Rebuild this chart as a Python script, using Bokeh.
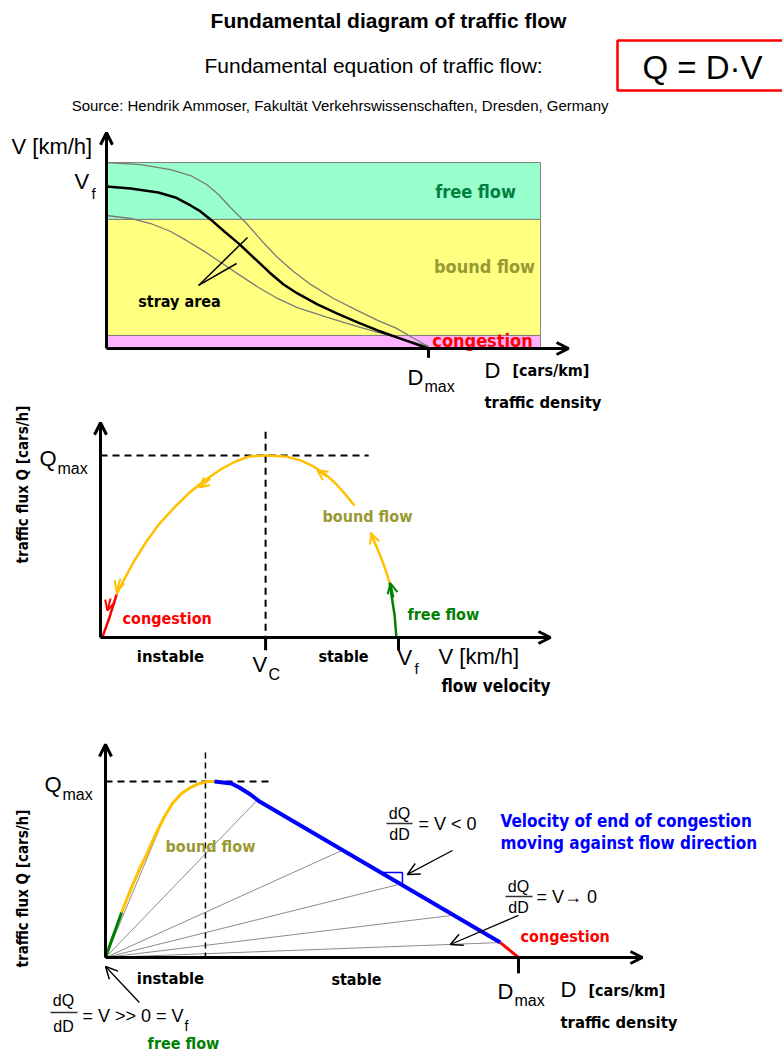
import numpy as np
from bokeh.plotting import figure
from bokeh.models import Range1d, Arrow, OpenHead
from bokeh.core.properties import value
from bokeh.embed import file_html
from bokeh.resources import INLINE

# ---------------- data (normalised schematic values) ----------------
# Panel 1: V(D), D in units of Dmax, V in units of top of free-flow band
p1_D_mid = [0, 0.075, 0.161, 0.214, 0.261, 0.292, 0.323, 0.366, 0.410, 0.460, 0.506, 0.550, 0.593, 0.655, 0.717, 0.780, 0.842, 0.922, 1.0]
p1_V_mid = [0.871, 0.860, 0.839, 0.812, 0.769, 0.737, 0.694, 0.629, 0.565, 0.484, 0.409, 0.344, 0.296, 0.237, 0.188, 0.140, 0.097, 0.048, 0.0]
p1_D_up = [0, 0.106, 0.199, 0.261, 0.311, 0.348, 0.385, 0.435, 0.481, 0.531, 0.581, 0.630, 0.705, 0.780, 0.842, 0.901, 0.950, 1.0]
p1_V_up = [1.0, 0.989, 0.962, 0.930, 0.882, 0.828, 0.758, 0.672, 0.581, 0.489, 0.414, 0.349, 0.269, 0.204, 0.151, 0.108, 0.059, 0.011]
p1_D_low = [0, 0.075, 0.137, 0.199, 0.248, 0.304, 0.360, 0.416, 0.472, 0.531, 0.593, 0.686, 0.780, 0.888, 1.0]
p1_V_low = [0.715, 0.699, 0.672, 0.629, 0.581, 0.522, 0.457, 0.392, 0.328, 0.269, 0.220, 0.167, 0.118, 0.065, 0.011]
p1_band_names = ["free flow", "bound flow", "congestion"]
p1_band_low = [0.694, 0.070, 0.0]
p1_band_high = [1.0, 0.694, 0.070]
p1_band_colors = ["#99FFCC", "#FFFF80", "#FFB3FF"]
p1_band_right = 1.348

# Panel 2: Q(V), V in units of Vf, Q in units of Qmax
p2_Vc = 0.554
p2_V_green = [0.993, 0.987, 0.970]
p2_Q_green = [0.0, 0.121, 0.302]
p2_V_yel_low = [0.970, 0.956, 0.940, 0.923, 0.906]
p2_Q_yel_low = [0.302, 0.374, 0.445, 0.511, 0.577]
p2_V_yel_up = [0.852, 0.822, 0.789, 0.755, 0.715, 0.671, 0.621, 0.554]
p2_Q_yel_up = [0.725, 0.786, 0.846, 0.896, 0.940, 0.973, 0.995, 1.0]
p2_V_yel_left = [0.554, 0.5, 0.453, 0.403, 0.349, 0.295, 0.245, 0.198, 0.154, 0.114, 0.081, 0.054]
p2_Q_yel_left = [1.0, 0.995, 0.967, 0.923, 0.863, 0.791, 0.709, 0.626, 0.527, 0.423, 0.324, 0.236]
p2_V_red = [0.054, 0.030, 0.007]
p2_Q_red = [0.236, 0.110, 0.005]

# Panel 3: Q(D), D in units of Dmax, Q in units of Qmax
p3_Dc = 0.242
p3_D_green = [0.0, 0.019, 0.039]
p3_Q_green = [0.0, 0.125, 0.256]
p3_D_yel = [0.039, 0.061, 0.082, 0.102, 0.121, 0.143, 0.162, 0.184, 0.206, 0.228, 0.247, 0.264]
p3_Q_yel = [0.256, 0.386, 0.5, 0.597, 0.699, 0.801, 0.875, 0.932, 0.966, 0.989, 1.0, 1.0]
p3_D_blue = [0.264, 0.305, 0.324, 0.351, 0.373, 0.956]
p3_Q_blue = [1.0, 0.989, 0.966, 0.926, 0.886, 0.085]
p3_D_red = [0.956, 1.0]
p3_Q_red = [0.085, 0.0]
p3_ray_D = [0.143, 0.368, 0.574, 0.714, 0.843, 0.956]

# ---------------- figure ----------------
W, H = 782, 1053
OFF = 0
FONT = "Liberation Sans"
BFONT = "DejaVu Sans Condensed"

p = figure(width=W, height=H, output_backend="svg", toolbar_location=None,
           x_axis_type=None, y_axis_type=None, min_border=0,
           x_range=Range1d(OFF, OFF + W), y_range=Range1d(OFF + H, OFF))
p.outline_line_color = None
p.background_fill_color = "white"
p.border_fill_color = "white"


def add_panel(name, x0, sx, y0, sy):
    p.extra_x_ranges[name + "x"] = Range1d((OFF - x0) / sx, (OFF + W - x0) / sx)
    p.extra_y_ranges[name + "y"] = Range1d((y0 - OFF - H) / sy, (y0 - OFF) / sy)
    return dict(x_range_name=name + "x", y_range_name=name + "y")


P1 = add_panel("p1", 106, 322, 348, 186)
P2 = add_panel("p2", 100, 298, 637, 182)
P3 = add_panel("p3", 105, 413, 957, 176)


def label(x, y, s, size, color="black", bold=False, align="left", baseline="middle", angle=0.0, font=None):
    f = font if font else (BFONT if bold else FONT)
    p.text(x=[x], y=[y], text=[s], text_font=value(f), text_font_size=value(f"{size}px"),
           text_font_style="bold" if bold else "normal", text_color=color,
           text_align=align, text_baseline=baseline, angle=angle)


def arrow(x1, y1, x2, y2, rn, color="black", lw=3, size=12, hw=None):
    p.add_layout(Arrow(x_start=x1, y_start=y1, x_end=x2, y_end=y2,
                       line_color=color, line_width=lw,
                       end=OpenHead(size=size, line_color=color, line_width=hw if hw else lw),
                       **rn))


# ---------------- header ----------------
label(388, 20, "Fundamental diagram of traffic flow", 21, bold=True, align="center", font="Liberation Sans")
label(204, 65, "Fundamental equation of traffic flow:", 21)
p.quad(left=[617], right=[800], top=[40], bottom=[90], fill_color=None, line_color="#FF0000", line_width=2.5)
label(642, 67, "Q = D\u00b7V", 33)
label(340, 105, "Source: Hendrik Ammoser, Fakult\u00e4t Verkehrswissenschaften, Dresden, Germany", 15, align="center")

# ---------------- panel 1 ----------------
for lo, hi, c in zip(p1_band_low, p1_band_high, p1_band_colors):
    p.quad(left=[0], right=[p1_band_right], bottom=[lo], top=[hi], fill_color=c,
           line_color="#808080", line_width=1, **P1)
p.line(p1_D_up, p1_V_up, line_color="#7a7a7a", line_width=1.3, **P1)
p.line(p1_D_low, p1_V_low, line_color="#7a7a7a", line_width=1.3, **P1)
p.line(p1_D_mid, p1_V_mid, line_color="black", line_width=2.5, **P1)
# stray area pointers
p.segment(x0=[0.286, 0.286], y0=[0.339, 0.339], x1=[0.438, 0.404], y1=[0.597, 0.457],
          line_color="black", line_width=1.5, **P1)
arrow(0, 0, 0, 1.16, P1)
arrow(0, 0, 1.435, 0, P1)
p.segment(x0=[1.0], y0=[0], x1=[1.0], y1=[-0.05], line_color="black", line_width=3, **P1)

label(11, 146, "V [km/h]", 22)
label(74, 181, "V", 22)
label(91, 193, "f", 15)
label(475, 191, p1_band_names[0], 18, color="#007F3F", bold=True, align="center")
label(484, 266, p1_band_names[1], 18, color="#999933", bold=True, align="center")
label(482, 340, p1_band_names[2], 18, color="#FF0000", bold=True, align="center")
label(179, 301, "stray area", 16, bold=True, align="center")
label(407, 377, "D", 22)
label(424, 386, "max", 16)
label(484, 370, "D", 22)
label(512, 370, "[cars/km]", 16, bold=True)
label(484, 402, "traffic density", 16.5, bold=True)

# ---------------- panel 2 ----------------
p.line([p2_Vc, p2_Vc], [1.13, -0.02], line_color="black", line_width=2, line_dash="7 5", **P2)
p.line([0, 0.9], [1, 1], line_color="black", line_width=2, line_dash="7 5", **P2)
p.line(p2_V_yel_up, p2_Q_yel_up, line_color="#FFC000", line_width=2.5, **P2)
p.line(p2_V_yel_left, p2_Q_yel_left, line_color="#FFC000", line_width=2.5, **P2)
p.line(p2_V_yel_low, p2_Q_yel_low, line_color="#FFC000", line_width=2.5, **P2)
p.line(p2_V_green, p2_Q_green, line_color="#008000", line_width=2.5, **P2)
p.line(p2_V_red, p2_Q_red, line_color="#FF0000", line_width=2.5, **P2)
arrow(0.369, 0.874, 0.332, 0.824, P2, color="#FFC000", lw=2, size=10)
arrow(0.067, 0.324, 0.054, 0.253, P2, color="#FFC000", lw=2, size=10)
arrow(0.034, 0.214, 0.023, 0.148, P2, color="#FF0000", lw=2, size=10)
arrow(0.758, 0.885, 0.728, 0.918, P2, color="#FFC000", lw=2, size=10)
arrow(0.923, 0.505, 0.909, 0.571, P2, color="#FFC000", lw=2, size=10)
arrow(0.983, 0.220, 0.973, 0.297, P2, color="#008000", lw=2, size=10)
arrow(0, 0, 0, 1.18, P2)
arrow(0, 0, 1.51, 0, P2)
p.segment(x0=[p2_Vc, 1.0], y0=[0, 0], x1=[p2_Vc, 1.0], y1=[-0.07, -0.07], line_color="black", line_width=3, **P2)

label(22, 484, "traffic flux Q [cars/h]", 15, bold=True, align="center", angle=np.pi / 2)
label(39, 458, "Q", 22)
label(57, 468, "max", 16)
label(122, 618, "congestion", 16, color="#FF0000", bold=True)
label(407, 614, "free flow", 16, color="#008000", bold=True)
label(367, 516, "bound flow", 16, color="#999933", bold=True, align="center")
label(170, 656, "instable", 16.5, bold=True, align="center")
label(343, 656, "stable", 16, bold=True, align="center")
label(252, 664, "V", 22)
label(268, 674, "C", 16)
label(397, 657, "V", 22)
label(414, 668, "f", 15)
label(438, 656, "V [km/h]", 22)
label(441, 685, "flow velocity", 17, bold=True)

# ---------------- panel 3 ----------------
D_all = np.array(p3_D_green + p3_D_yel + p3_D_blue + p3_D_red)
Q_all = np.array(p3_Q_green + p3_Q_yel + p3_Q_blue + p3_Q_red)
ray_Q = np.interp(p3_ray_D, D_all, Q_all)
p.segment(x0=[0] * len(p3_ray_D), y0=[0] * len(p3_ray_D), x1=p3_ray_D, y1=list(ray_Q),
          line_color="#8c8c8c", line_width=1, **P3)
p.line([p3_Dc, p3_Dc], [1.165, 0], line_color="black", line_width=1.5, line_dash="6 4", **P3)
p.line([0, 0.395], [1, 1], line_color="black", line_width=2, line_dash="7 5", **P3)
p.line(p3_D_yel, p3_Q_yel, line_color="#FFC000", line_width=3, **P3)
p.line(p3_D_blue, p3_Q_blue, line_color="#0000FF", line_width=4, **P3)
p.line(p3_D_green, p3_Q_green, line_color="#008000", line_width=3, **P3)
p.line(p3_D_red, p3_Q_red, line_color="#FF0000", line_width=3, **P3)
# slope marker
mk_D = [0.666, 0.719, 0.719]
mk_Q = [float(np.interp(0.666, D_all, Q_all)), float(np.interp(0.666, D_all, Q_all)), float(np.interp(0.719, D_all, Q_all))]
p.line(mk_D, mk_Q, line_color="#0000FF", line_width=1.5, **P3)
arrow(0.840, 0.608, 0.731, 0.472, P3, lw=1.3, size=12, hw=1.5)
arrow(1.0, 0.239, 0.835, 0.074, P3, lw=1.3, size=12, hw=1.5)
arrow(0.082, -0.256, 0.0, -0.051, P3, lw=1.3, size=12, hw=1.5)
arrow(0, 0, 0, 1.21, P3)
arrow(0, 0, 1.30, 0, P3)
p.segment(x0=[1.0], y0=[0], x1=[1.0], y1=[-0.09], line_color="black", line_width=3, **P3)

label(22, 888, "traffic flux Q [cars/h]", 15, bold=True, align="center", angle=np.pi / 2)
label(44, 784, "Q", 22)
label(62, 794, "max", 16)
label(210, 846, "bound flow", 16, color="#999933", bold=True, align="center")
label(399, 813, "dQ", 16, align="center")
p.segment(x0=[386], y0=[823], x1=[412], y1=[823], line_color="#333333", line_width=1.5)
label(399, 834, "dD", 16, align="center")
label(418, 823, "= V < 0", 18)
label(500, 820, "Velocity of end of congestion", 17, color="#0000FF", bold=True)
label(500, 842, "moving against flow direction", 17, color="#0000FF", bold=True)
label(518, 886, "dQ", 16, align="center")
p.segment(x0=[505], y0=[896], x1=[532], y1=[896], line_color="#333333", line_width=1.5)
label(518, 907, "dD", 16, align="center")
label(536, 896, "= V\u2192 0", 18)
label(520, 936, "congestion", 16, color="#FF0000", bold=True)
label(170, 978, "instable", 16.5, bold=True, align="center")
label(356, 979, "stable", 16, bold=True, align="center")
label(497, 991, "D", 22)
label(514, 1000, "max", 16)
label(560, 989, "D", 22)
label(588, 990, "[cars/km]", 16, bold=True)
label(560, 1022, "traffic density", 16.5, bold=True)
label(63, 1000, "dQ", 16, align="center")
p.segment(x0=[50], y0=[1012], x1=[77], y1=[1012], line_color="#333333", line_width=1.5)
label(63, 1026, "dD", 16, align="center")
label(82, 1015, "= V >> 0 = V", 18)
label(184, 1025, "f", 14)
label(183, 1043, "free flow", 16, color="#008000", bold=True, align="center")

open("out.html", "w").write(file_html(p, INLINE))
